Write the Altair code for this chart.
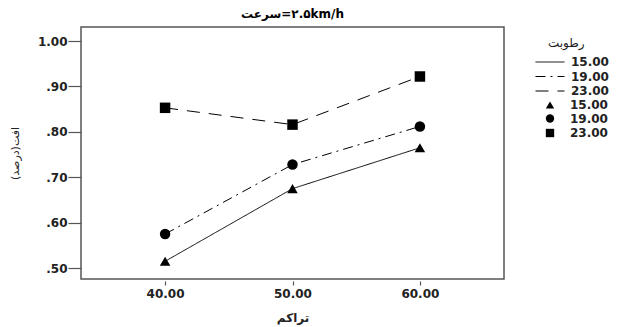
import altair as alt
import pandas as pd

# data
traffic = [40, 50, 60]
humidity_levels = ["15.00", "19.00", "23.00"]
loss_h15 = [0.515, 0.675, 0.765]
loss_h19 = [0.575, 0.728, 0.812]
loss_h23 = [0.853, 0.816, 0.922]

rows = []
for h, vals in zip(humidity_levels, [loss_h15, loss_h19, loss_h23]):
    for t, v in zip(traffic, vals):
        rows.append({"traffic": t, "loss": v, "hl": h, "hp": h})
df = pd.DataFrame(rows)

FONT = "DejaVu Sans"

x = alt.X(
    "traffic:Q",
    scale=alt.Scale(domain=[33.4, 66.6], nice=False, zero=False),
    axis=alt.Axis(
        values=traffic, format=".2f", title="تراکم",
        tickSize=4, offset=2, labelPadding=3, titlePadding=13,
        titleFontWeight="bold", titleFontSize=12,
    ),
)
y = alt.Y(
    "loss:Q",
    scale=alt.Scale(domain=[0.476, 1.031], nice=False, zero=False),
    axis=alt.Axis(
        values=[0.5, 0.6, 0.7, 0.8, 0.9, 1.0],
        labelExpr="datum.value >= 1 ? format(datum.value, '.2f') : substring(format(datum.value, '.2f'), 1)",
        title="افت(درصد)", tickSize=13, labelPadding=1, titlePadding=17,
        titleFontWeight="normal", titleFontSize=11,
    ),
)

base = alt.Chart(df).encode(x=x, y=y)

lines = base.mark_line(color="black", strokeWidth=1).encode(
    strokeDash=alt.StrokeDash(
        "hl:N",
        scale=alt.Scale(range=[[1, 0], [10, 5, 2, 5], [13, 9]]),
        legend=alt.Legend(
            title="رطوبت", orient="none", legendX=467, legendY=11,
            symbolType="M-6.17,0H3.5", symbolSize=36, symbolStrokeWidth=1,
            symbolStrokeColor="black", labelOffset=11, rowPadding=2.5,
            titleAnchor="start", titleAlign="left", titlePadding=6,
            titleFontWeight="normal", titleFontSize=12, padding=0,
        ),
    )
)

points = base.mark_point(filled=True, color="black", size=110, opacity=1).encode(
    shape=alt.Shape(
        "hp:N",
        scale=alt.Scale(range=["triangle-up", "circle", "square"]),
        legend=alt.Legend(
            title=None, orient="none", legendX=463, legendY=72,
            symbolSize=70, symbolFillColor="black", symbolStrokeColor="black",
            labelOffset=14, rowPadding=-1.5, padding=0,
        ),
    )
)

chart = (
    alt.layer(lines, points)
    .properties(
        width=423, height=252, autosize="none",
        padding={"left": 73, "top": 19, "right": 106, "bottom": 48},
        title=alt.TitleParams("سرعت\u200e=۲.۵km/h", fontSize=12, font=FONT,
                              fontWeight="bold", offset=6, anchor="middle", color="black"),
    )
    .configure_view(stroke="#555555", strokeWidth=1.5)
    .configure_axis(
        domain=False, grid=False, tickColor="#555555", tickWidth=1.2,
        labelFont=FONT, labelFontWeight="bold", labelFontSize=12, labelColor="#222222",
        titleFont=FONT, titleColor="#222222",
    )
    .configure_legend(
        labelFont=FONT, labelFontWeight="bold", labelFontSize=12, labelColor="#222222",
        titleFont=FONT, titleColor="#222222",
    )
)

chart.save("out.html", embed_options={"renderer": "svg", "actions": False})
